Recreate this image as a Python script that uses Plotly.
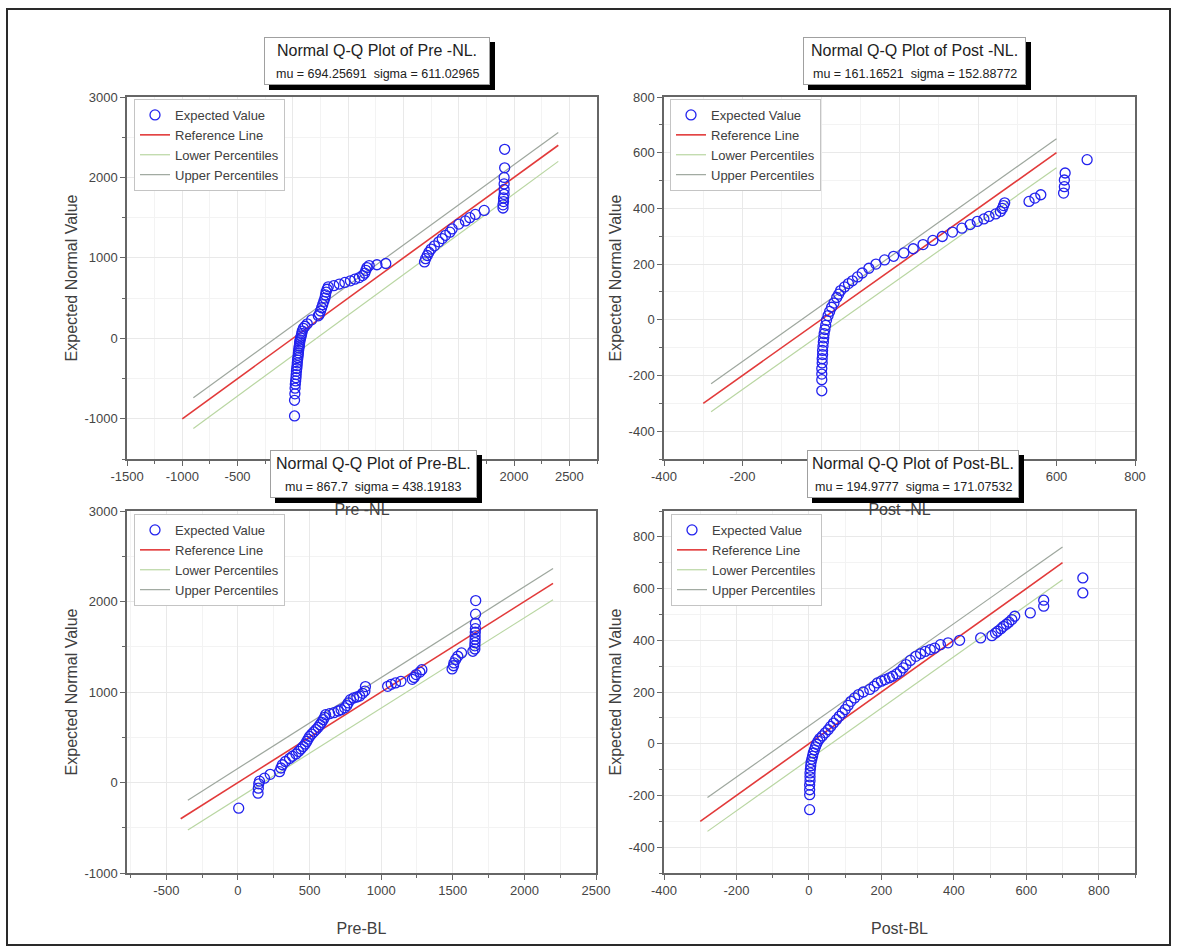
import plotly.graph_objects as go

W, H = 1178, 952
FONT = "Arial, Liberation Sans, sans-serif"

# ---------------- data ----------------
# Panel 1: Pre -NL
pre_nl_x = [15, 15, 18, 20, 22, 25, 28, 30, 32, 35,
            38, 40, 42, 45, 48, 50, 52, 55, 58, 60,
            62, 65, 70, 75, 80, 85, 95, 110, 130, 170,
            230, 240, 250, 260, 270, 280, 290, 295, 300, 310,
            320, 370, 420, 470, 520, 560, 600, 630, 650, 660,
            670, 690, 760, 840,
            1190, 1200, 1215, 1230, 1250, 1280, 1320, 1350, 1380, 1420,
            1440, 1500, 1560, 1600, 1650, 1730,
            1900, 1900, 1905, 1905, 1910, 1910, 1910, 1910, 1915, 1915]
pre_nl_y = [-965, -770, -690, -620, -570, -530, -490, -450, -410, -375,
            -340, -305, -270, -240, -210, -180, -150, -120, -95, -70,
            -45, -20, 5, 30, 60, 90, 125, 150, 180, 230,
            280, 300, 340, 380, 420, 460, 500, 540, 575, 610,
            640, 655, 675, 695, 715, 735, 755, 780, 810, 845,
            880, 905, 915, 930,
            950, 990, 1030, 1070, 1110, 1150, 1200, 1240, 1280, 1320,
            1360, 1420, 1460, 1500, 1540, 1590,
            1620, 1660, 1700, 1745, 1790, 1850, 1920, 2000, 2120, 2350]
pre_nl_ref_x = [-1000, 2400]
pre_nl_ref_y = [-1000, 2400]
pre_nl_upper_x = [-900, 2400]
pre_nl_upper_y = [-740, 2560]
pre_nl_lower_x = [-900, 2400]
pre_nl_lower_y = [-1120, 2200]
pre_nl_xticks = [-1500, -1000, -500, 0, 500, 1000, 1500, 2000, 2500]
pre_nl_yticks = [-1000, 0, 1000, 2000, 3000]

# Panel 2: Post -NL
post_nl_x = [2, 2, 2, 2, 3, 3, 4, 4, 5, 6, 7, 8, 10, 12, 14, 18, 22, 27, 33, 40,
             45, 50, 60, 70, 80, 93, 105, 122, 140, 162, 185, 211, 235, 260, 285,
             309, 335, 359, 380, 398, 415, 428, 445, 457, 462, 465, 468, 530, 545,
             560, 618, 620, 620, 622, 678]
post_nl_y = [-255, -215, -195, -175, -155, -140, -125, -110, -95, -80, -65, -50, -35,
             -20, -2, 15, 30, 45, 60, 80, 92, 105, 118, 130, 140, 154, 168, 185, 200,
             215, 228, 240, 255, 270, 285, 299, 315, 329, 342, 353, 362, 371, 380, 389,
             400, 410, 420, 425, 437, 449, 455, 478, 502, 527, 575]
post_nl_ref_x = [-300, 600]
post_nl_ref_y = [-300, 600]
post_nl_upper_x = [-280, 600]
post_nl_upper_y = [-230, 650]
post_nl_lower_x = [-280, 600]
post_nl_lower_y = [-330, 546]
post_nl_xticks = [-400, -200, 0, 200, 400, 600, 800]
post_nl_yticks = [-400, -200, 0, 200, 400, 600, 800]

# Panel 3: Pre-BL
pre_bl_x = [5, 140, 142, 145, 150, 185, 225, 290, 300, 310, 331, 360, 380, 405, 423,
            440, 455, 470, 480, 490, 500, 515, 530, 545, 560, 572, 585, 595, 605, 612,
            640, 670, 700, 720, 745, 760, 770, 785, 807, 830, 850, 870, 886, 890,
            1045, 1070, 1100, 1138, 1217, 1230, 1244, 1270, 1284,
            1495, 1505, 1508, 1520, 1535, 1561, 1640,
            1654, 1654, 1655, 1656, 1656, 1657, 1658, 1658, 1659, 1660]
pre_bl_y = [-284, -118, -63, -15, 15, 48, 90, 120, 160, 196, 232, 265, 290, 315, 343,
            370, 398, 425, 454, 480, 509, 535, 560, 585, 610, 638, 665, 694, 720, 749,
            760, 772, 790, 805, 825, 850, 880, 915, 934, 945, 955, 985, 1010, 1060,
            1063, 1085, 1100, 1118, 1140, 1160, 1192, 1220, 1247,
            1255, 1290, 1321, 1360, 1395, 1432, 1450,
            1475, 1510, 1545, 1580, 1620, 1660, 1700, 1760, 1860, 2010]
pre_bl_ref_x = [-400, 2200]
pre_bl_ref_y = [-400, 2200]
pre_bl_upper_x = [-350, 2200]
pre_bl_upper_y = [-195, 2365]
pre_bl_lower_x = [-350, 2200]
pre_bl_lower_y = [-525, 2020]
pre_bl_xticks = [-500, 0, 500, 1000, 1500, 2000, 2500]
pre_bl_yticks = [-1000, 0, 1000, 2000, 3000]

# Panel 4: Post-BL
post_bl_x = [2, 2, 2, 2, 3, 3, 3, 4, 5, 6, 8, 10, 12, 15, 18, 21, 25, 30, 37, 45,
             53, 60, 68, 76, 84, 92, 100, 108, 116, 126, 137, 150, 168, 180, 189, 200,
             210, 222, 231, 242, 252, 260, 268, 280, 295, 308, 321, 335, 347, 363, 384,
             416, 474, 505, 515, 521, 530, 537, 545, 552, 560, 568, 611, 648, 648,
             756, 756]
post_bl_y = [-255, -197, -178, -160, -143, -128, -113, -99, -85, -72, -60, -48, -36,
             -24, -12, -2, 10, 20, 30, 42, 54, 67, 80, 93, 106, 119, 132, 148, 164, 177,
             190, 200, 210, 222, 235, 242, 248, 255, 261, 270, 280, 293, 306, 322, 338,
             348, 357, 364, 370, 383, 390, 400, 409, 418, 428, 435, 445, 454, 462, 470,
             480, 493, 506, 532, 555, 583, 641]
post_bl_ref_x = [-300, 700]
post_bl_ref_y = [-300, 700]
post_bl_upper_x = [-280, 700]
post_bl_upper_y = [-208, 761]
post_bl_lower_x = [-280, 700]
post_bl_lower_y = [-339, 634]
post_bl_xticks = [-400, -200, 0, 200, 400, 600, 800]
post_bl_yticks = [-400, -200, 0, 200, 400, 600, 800]

# titles
titles = ["Normal Q-Q Plot of Pre -NL.", "Normal Q-Q Plot of Post -NL.",
          "Normal Q-Q Plot of Pre-BL.", "Normal Q-Q Plot of Post-BL."]
subtitles = ["mu = 694.25691  sigma = 611.02965", "mu = 161.16521  sigma = 152.88772",
             "mu = 867.7  sigma = 438.19183", "mu = 194.9777  sigma = 171.07532"]
x_titles = ["Pre -NL", "Post -NL", "Pre-BL", "Post-BL"]
y_title = "Expected Normal Value"
legend_names = ["Expected Value", "Reference Line", "Lower Percentiles", "Upper Percentiles"]

# ---------------- styling ----------------
AX = "#666666"
TICK = "#454545"
GRID = "#e9e9e9"
MGRID = "#f3f3f3"
BLUE = "#2222ee"
RED = "#e23a3a"
LOWER_C = "#b9d6a2"
UPPER_C = "#9ea79e"

panels = [
    dict(x=pre_nl_x, y=pre_nl_y, rx=pre_nl_ref_x, ry=pre_nl_ref_y,
         ux=pre_nl_upper_x, uy=pre_nl_upper_y, lx=pre_nl_lower_x, ly=pre_nl_lower_y,
         xt=pre_nl_xticks, yt=pre_nl_yticks, xso=20,
         px=(127, 597), py=(97, 459), xr=[-1500, 2750], yr=[-1500, 3000],
         xm=250, ym=500, box=(264, 37, 490, 85), leg=(134, 99)),
    dict(x=post_nl_x, y=post_nl_y, rx=post_nl_ref_x, ry=post_nl_ref_y,
         ux=post_nl_upper_x, uy=post_nl_upper_y, lx=post_nl_lower_x, ly=post_nl_lower_y,
         xt=post_nl_xticks, yt=post_nl_yticks, xso=20,
         px=(664, 1135), py=(97, 459), xr=[-400, 800], yr=[-500, 800],
         xm=100, ym=100, box=(803, 37, 1026, 85), leg=(670, 99)),
    dict(x=pre_bl_x, y=pre_bl_y, rx=pre_bl_ref_x, ry=pre_bl_ref_y,
         ux=pre_bl_upper_x, uy=pre_bl_upper_y, lx=pre_bl_lower_x, ly=pre_bl_lower_y,
         xt=pre_bl_xticks, yt=pre_bl_yticks, xso=25,
         px=(127, 596), py=(511, 873), xr=[-775, 2500], yr=[-1000, 3000],
         xm=250, ym=500, box=(270, 450, 477, 498), leg=(134, 514)),
    dict(x=post_bl_x, y=post_bl_y, rx=post_bl_ref_x, ry=post_bl_ref_y,
         ux=post_bl_upper_x, uy=post_bl_upper_y, lx=post_bl_lower_x, ly=post_bl_lower_y,
         xt=post_bl_xticks, yt=post_bl_yticks, xso=25,
         px=(664, 1135), py=(511, 873), xr=[-400, 900], yr=[-500, 900],
         xm=100, ym=100, box=(807, 450, 1019, 498), leg=(671, 514)),
]

fig = go.Figure()
layout = dict(width=W, height=H, margin=dict(l=0, r=0, t=0, b=0),
              paper_bgcolor="white", plot_bgcolor="white",
              font=dict(family=FONT, color=TICK), showlegend=True)
annotations = []


def labels(vals):
    return [str(v) for v in vals]


for i, p in enumerate(panels):
    n = "" if i == 0 else str(i + 1)
    xa, ya = "x" + n, "y" + n
    lg = "legend" + n
    assert len(p["x"]) == len(p["y"])
    fig.add_trace(go.Scatter(x=p["lx"], y=p["ly"], mode="lines", name=legend_names[2],
                             line=dict(color=LOWER_C, width=1.2), xaxis=xa, yaxis=ya,
                             legend=lg, legendrank=3))
    fig.add_trace(go.Scatter(x=p["ux"], y=p["uy"], mode="lines", name=legend_names[3],
                             line=dict(color=UPPER_C, width=1.2), xaxis=xa, yaxis=ya,
                             legend=lg, legendrank=4))
    fig.add_trace(go.Scatter(x=p["rx"], y=p["ry"], mode="lines", name=legend_names[1],
                             line=dict(color=RED, width=1.6), xaxis=xa, yaxis=ya,
                             legend=lg, legendrank=2))
    fig.add_trace(go.Scatter(x=p["x"], y=p["y"], mode="markers", name=legend_names[0],
                             marker=dict(symbol="circle-open", size=10, color=BLUE,
                                         line=dict(width=1.3, color=BLUE)),
                             xaxis=xa, yaxis=ya, legend=lg, legendrank=1))

    common = dict(ticks="outside", ticklen=5, tickwidth=1, tickcolor=AX, showline=True,
                  linecolor=AX, linewidth=1.5, mirror=True, showgrid=True, gridcolor=GRID,
                  gridwidth=1, zeroline=False, automargin=False, tickmode="array",
                  tickfont=dict(size=13, color=TICK, family=FONT))
    layout["xaxis" + n] = dict(
        common, domain=[p["px"][0] / W, p["px"][1] / W], range=p["xr"],
        tickvals=p["xt"], ticktext=labels(p["xt"]), anchor=ya,
        minor=dict(tickmode="linear", dtick=p["xm"], tick0=0, ticks="outside", ticklen=3,
                   tickcolor=AX, showgrid=True, gridcolor=MGRID),
        title=dict(text=x_titles[i], font=dict(size=16, color="#404040", family=FONT),
                   standoff=p["xso"]))
    layout["yaxis" + n] = dict(
        common, domain=[1 - p["py"][1] / H, 1 - p["py"][0] / H], range=p["yr"],
        tickvals=p["yt"], ticktext=labels(p["yt"]), anchor=xa,
        minor=dict(tickmode="linear", dtick=p["ym"], tick0=0, ticks="outside", ticklen=3,
                   tickcolor=AX, showgrid=True, gridcolor=MGRID),
        title=dict(text=y_title, font=dict(size=16, color="#404040", family=FONT),
                   standoff=3))
    layout[lg] = dict(x=p["leg"][0] / W, y=1 - p["leg"][1] / H, xanchor="left",
                      yanchor="top", bgcolor="white", bordercolor="#c4c4c4",
                      borderwidth=1, tracegroupgap=0, itemwidth=30,
                      font=dict(size=13, color="#404040", family=FONT))

    # title box: shadow + white box + two lines of text
    bx0, by0, bx1, by1 = p["box"]
    annotations.append(dict(xref="paper", yref="paper", x=(bx0 + 5) / W, y=1 - (by0 + 5) / H,
                            xanchor="left", yanchor="top", text=".", showarrow=False,
                            font=dict(size=4, color="black"),
                            width=bx1 - bx0, height=by1 - by0, bgcolor="black",
                            borderwidth=0, borderpad=0))
    annotations.append(dict(xref="paper", yref="paper", x=bx0 / W, y=1 - by0 / H,
                            xanchor="left", yanchor="top", text=".", showarrow=False,
                            font=dict(size=4, color="white"),
                            width=bx1 - bx0 - 2, height=by1 - by0 - 2, bgcolor="white",
                            bordercolor="#a0a0a0", borderwidth=1, borderpad=0))
    cx = (bx0 + bx1) / 2 / W
    annotations.append(dict(xref="paper", yref="paper", x=cx, y=1 - (by0 + 13) / H,
                            xanchor="center", yanchor="middle", text=titles[i],
                            showarrow=False, font=dict(size=16, color="#222222", family=FONT)))
    annotations.append(dict(xref="paper", yref="paper", x=cx, y=1 - (by0 + 37) / H,
                            xanchor="center", yanchor="middle", text=subtitles[i],
                            showarrow=False, font=dict(size=12.5, color="#222222", family=FONT)))

layout["annotations"] = annotations
layout["shapes"] = [dict(type="rect", xref="paper", yref="paper",
                         x0=7 / W, x1=1170 / W, y0=1 - 945 / H, y1=1 - 9 / H,
                         line=dict(color="#2a2a2a", width=2), fillcolor="rgba(0,0,0,0)",
                         layer="above")]
fig.update_layout(**layout)

fig.write_html("out.html", config={"displayModeBar": False},
               post_script="document.body.style.margin='0';")
